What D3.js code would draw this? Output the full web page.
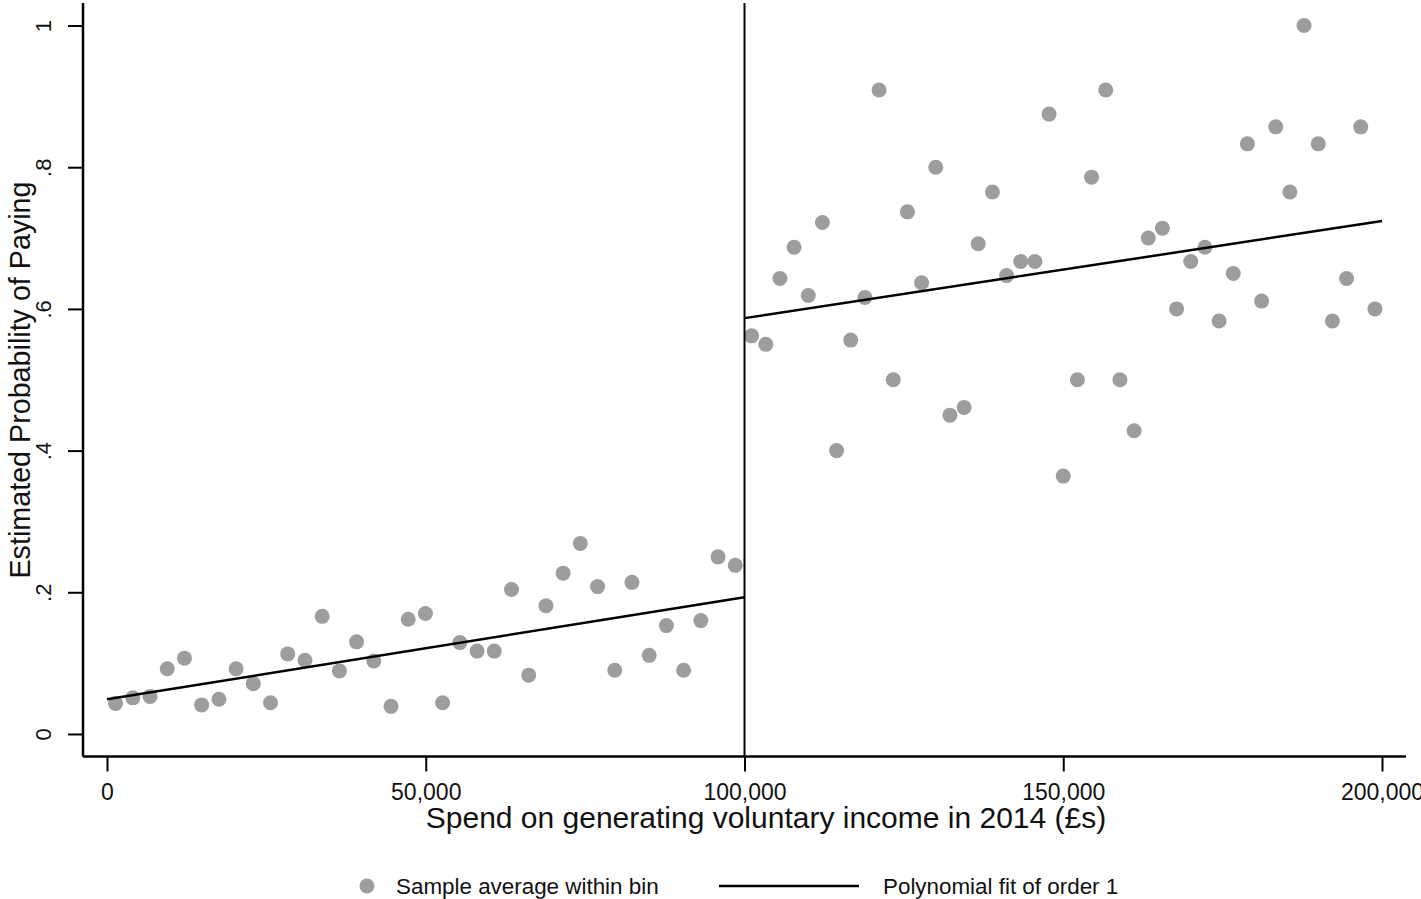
<!DOCTYPE html>
<html>
<head>
<meta charset="utf-8">
<script src="https://cdn.jsdelivr.net/npm/d3@7"></script>
<style>
  body { margin: 0; background: #fff; }
  text { font-family: "Liberation Sans", Arial, sans-serif; fill: #111; }
</style>
</head>
<body>
<div id="chart"></div>
<script>
// bin averages below the 100,000 threshold (37 bins of 2,700)
const leftBinWidth = 2700;
const leftValues = [
  0.043, 0.051, 0.053, 0.092, 0.107, 0.041, 0.049, 0.092, 0.071, 0.044,
  0.113, 0.104, 0.166, 0.089, 0.130, 0.103, 0.039, 0.162, 0.170, 0.044,
  0.129, 0.117, 0.117, 0.204, 0.083, 0.181, 0.227, 0.269, 0.208, 0.090,
  0.214, 0.111, 0.153, 0.090, 0.160, 0.250, 0.238
];
// bin averages above the threshold (45 bins of 100,000 / 45)
const rightBinWidth = 100000 / 45;
const rightValues = [
  0.562, 0.550, 0.643, 0.687, 0.619, 0.722, 0.400, 0.556, 0.616, 0.909,
  0.500, 0.737, 0.637, 0.800, 0.450, 0.461, 0.692, 0.765, 0.647, 0.667,
  0.667, 0.875, 0.364, 0.500, 0.786, 0.909, 0.500, 0.428, 0.700, 0.714,
  0.600, 0.667, 0.687, 0.583, 0.650, 0.833, 0.611, 0.857, 0.765, 1.000,
  0.833, 0.583, 0.643, 0.857, 0.600
];
const threshold = 100000;
// fitted lines: [x, y] end points
const leftFit = [[0, 0.049], [100000, 0.193]];
const rightFit = [[100000, 0.587], [200000, 0.724]];

const xTicks = [0, 50000, 100000, 150000, 200000];
const yTicks = [0, 0.2, 0.4, 0.6, 0.8, 1];
const yTickLabels = ["0", ".2", ".4", ".6", ".8", "1"];

const width = 1421;
const height = 899;
const plotLeft = 83, plotRight = 1406, plotTop = 3, plotBottom = 756.5;

const points = leftValues.map((v, i) => ({ x: leftBinWidth * (i + 0.5), y: v }))
  .concat(rightValues.map((v, i) => ({ x: threshold + rightBinWidth * (i + 0.5), y: v })));

const x = d3.scaleLinear().domain([-3765, 203765]).range([plotLeft, plotRight]);
const y = d3.scaleLinear().domain([-0.0318, 1.0318]).range([plotBottom, plotTop]);

const svg = d3.select("#chart").append("svg")
  .attr("width", width)
  .attr("height", height);

// dots
svg.append("g").selectAll("circle")
  .data(points)
  .enter()
  .append("circle")
  .attr("cx", d => x(d.x))
  .attr("cy", d => y(d.y))
  .attr("r", 7.5)
  .attr("fill", "#9d9d9d");

// fit lines
const line = d3.line().x(d => x(d[0])).y(d => y(d[1]));
[leftFit, rightFit].forEach(f => {
  svg.append("path")
    .attr("d", line(f))
    .attr("fill", "none")
    .attr("stroke", "#000")
    .attr("stroke-width", 2.5);
});

// threshold line
svg.append("line")
  .attr("x1", x(threshold)).attr("x2", x(threshold))
  .attr("y1", plotTop).attr("y2", plotBottom)
  .attr("stroke", "#000")
  .attr("stroke-width", 2);

// axes
const xAxis = d3.axisBottom(x).tickValues(xTicks).tickSize(15).tickFormat(d3.format(","));
const gx = svg.append("g")
  .attr("transform", "translate(0," + plotBottom + ")")
  .call(xAxis);
gx.select(".domain").remove();
gx.selectAll(".tick line").attr("stroke", "#000").attr("stroke-width", 2);
gx.selectAll(".tick text")
  .attr("y", 43.5)
  .attr("dy", null)
  .style("font-size", "23px")
  .style("font-family", "'Liberation Sans', Arial, sans-serif")
  .attr("fill", "#111");

const yAxis = d3.axisLeft(y).tickValues(yTicks).tickSize(15).tickFormat((d, i) => yTickLabels[i]);
const gy = svg.append("g")
  .attr("transform", "translate(" + plotLeft + ",0)")
  .call(yAxis);
gy.select(".domain").remove();
gy.selectAll(".tick line").attr("stroke", "#000").attr("stroke-width", 2);
gy.selectAll(".tick text")
  .attr("x", null).attr("dy", null)
  .attr("text-anchor", "middle")
  .attr("transform", "translate(-32,0) rotate(-90)")
  .style("font-size", "22px")
  .style("font-family", "'Liberation Sans', Arial, sans-serif")
  .attr("fill", "#111");

// spines
svg.append("line")
  .attr("x1", plotLeft).attr("x2", plotLeft).attr("y1", plotTop).attr("y2", plotBottom)
  .attr("stroke", "#000").attr("stroke-width", 2.5);
svg.append("line")
  .attr("x1", plotLeft).attr("x2", plotRight).attr("y1", plotBottom).attr("y2", plotBottom)
  .attr("stroke", "#000").attr("stroke-width", 2.5);

// axis titles
svg.append("text")
  .attr("x", 766).attr("y", 828)
  .attr("text-anchor", "middle")
  .style("font-size", "30px")
  .text("Spend on generating voluntary income in 2014 (£s)");

svg.append("text")
  .attr("transform", "translate(30,380) rotate(-90)")
  .attr("text-anchor", "middle")
  .style("font-size", "28.7px")
  .text("Estimated Probability of Paying");

// legend
const legend = svg.append("g");
legend.append("circle")
  .attr("cx", 367).attr("cy", 886).attr("r", 7.5)
  .attr("fill", "#9d9d9d");
legend.append("text")
  .attr("x", 396).attr("y", 894)
  .style("font-size", "22.4px")
  .text("Sample average within bin");
legend.append("line")
  .attr("x1", 719).attr("x2", 859).attr("y1", 886).attr("y2", 886)
  .attr("stroke", "#000").attr("stroke-width", 2.5);
legend.append("text")
  .attr("x", 883).attr("y", 894)
  .style("font-size", "22.4px")
  .text("Polynomial fit of order 1");
</script>
</body>
</html>
